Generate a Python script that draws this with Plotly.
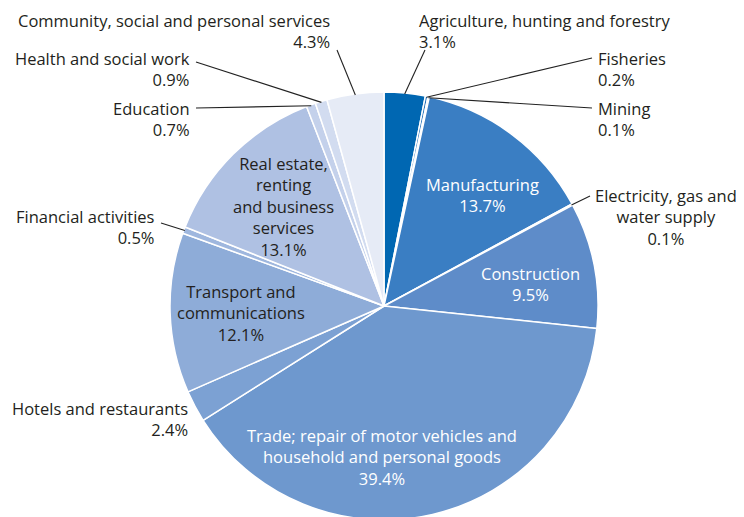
import math
import plotly.graph_objects as go

# page body adds an 8px margin; figure is offset accordingly
OFF = 8
W, H = 744 - OFF, 521 - OFF

# ---- data ----
sectors = [
    "Agriculture, hunting and forestry", "Fisheries", "Mining", "Manufacturing",
    "Electricity, gas and water supply", "Construction",
    "Trade; repair of motor vehicles and household and personal goods",
    "Hotels and restaurants", "Transport and communications", "Financial activities",
    "Real estate, renting and business services", "Education",
    "Health and social work", "Community, social and personal services",
]
shares = [3.1, 0.2, 0.1, 13.7, 0.1, 9.5, 39.4, 2.4, 12.1, 0.5, 13.1, 0.7, 0.9, 4.3]
display_names = [
    "Agriculture, hunting and forestry", "Fisheries", "Mining", "Manufacturing",
    "Electricity, gas and<br>water supply", "Construction",
    "Trade; repair of motor vehicles and<br>household and personal goods",
    "Hotels and restaurants", "Transport and<br>communications", "Financial activities",
    "Real estate,<br>renting<br>and business<br>services", "Education",
    "Health and social work", "Community, social and personal services",
]
colors = ["#0067b2", "#2270b9", "#2f78bf", "#3a7ec3", "#4c86c6", "#5e8cc9",
          "#6e98ce", "#7ca1d3", "#8eacd8", "#9fb7de", "#afc1e3", "#c4d1eb",
          "#d2dcf0", "#e6ebf6"]

# ---- layout geometry (screen pixels) ----
CX, CY, R = 384, 306, 214

def px(x):
    return (x - OFF) / W

def py(y):
    return 1 - (y - OFF) / H

fig = go.Figure(go.Pie(
    labels=sectors, values=shares, sort=False, direction="clockwise", rotation=0,
    marker=dict(colors=colors, line=dict(color="white", width=1.5)),
    textinfo="none", hoverinfo="label+percent", showlegend=False,
    domain=dict(x=[px(CX - R), px(CX + R)], y=[max(0, py(CY + R)), py(CY - R)]),
))

total = sum(shares)
cum = 0
mid_angle = []
for v in shares:
    mid_angle.append((cum + v / 2) / total * 2 * math.pi)
    cum += v

def edge_point(i, r=R):
    a = mid_angle[i]
    return CX + r * math.sin(a), CY - r * math.cos(a)

TXT = "#231f20"
FONT = "Open Sans"
FS = 16.5

# label placement: (index, x, y_top, xanchor, align, color, leader start or None)
placements = [
    (0, 418, 8, "left", "left", TXT, (425, 50)),
    (1, 597, 46, "left", "left", TXT, (592, 58)),
    (2, 597, 96, "left", "left", TXT, (592, 108)),
    (3, 483, 172, "center", "center", "white", None),
    (4, 666, 183, "center", "center", TXT, (590, 196)),
    (5, 530, 261, "center", "center", "white", None),
    (6, 382, 423, "center", "center", "white", None),
    (7, 189, 396, "right", "right", TXT, None),
    (8, 241, 279, "center", "center", TXT, None),
    (9, 156, 204, "right", "right", TXT, (161, 223)),
    (10, 283, 151, "center", "center", TXT, None),
    (11, 191, 96, "right", "right", TXT, (196, 108)),
    (12, 191, 46, "right", "right", TXT, (196, 62)),
    (13, 331, 8, "right", "right", TXT, (337, 50)),
]

for i, x, y, xa, al, col, lead in placements:
    fig.add_annotation(
        x=px(x), y=py(y), xref="paper", yref="paper", xanchor=xa, yanchor="top",
        text=f"{display_names[i]}<br>{shares[i]:.1f}%", align=al, showarrow=False,
        borderpad=0, font=dict(family=FONT, size=FS, color=col),
    )
    if lead is not None:
        ex, ey = edge_point(i, R - 1)
        fig.add_shape(type="line", xref="paper", yref="paper",
                      x0=px(lead[0]), y0=py(lead[1]), x1=px(ex), y1=py(ey),
                      line=dict(color="#222222", width=1.1))

fig.update_layout(
    width=W, height=H, margin=dict(l=0, r=0, t=0, b=0),
    paper_bgcolor="white", plot_bgcolor="white",
)

fig.write_html("out.html")
